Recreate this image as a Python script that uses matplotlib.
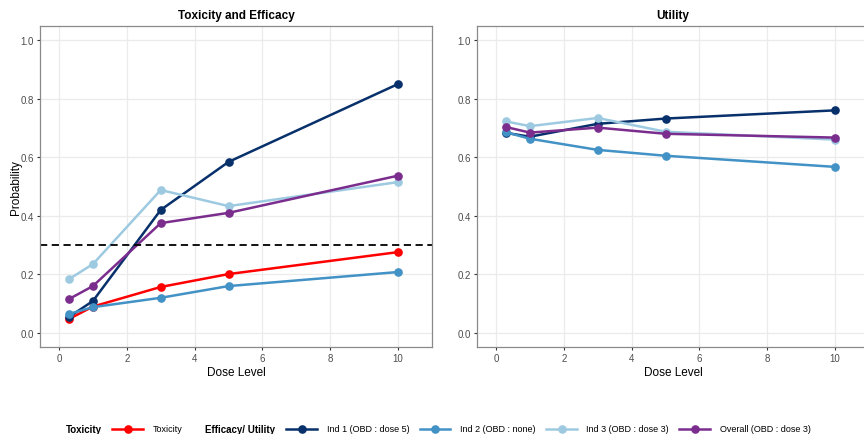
import matplotlib
matplotlib.use("Agg")
import matplotlib.pyplot as plt
from matplotlib.lines import Line2D

plt.rcParams['font.family'] = ['Liberation Sans', 'DejaVu Sans']

doses = [0.3, 1, 3, 5, 10]

tox = [0.048, 0.090, 0.157, 0.201, 0.276]

eff_ind1 = [0.055, 0.109, 0.420, 0.584, 0.850]
eff_ind2 = [0.065, 0.088, 0.120, 0.160, 0.208]
eff_ind3 = [0.184, 0.235, 0.488, 0.433, 0.515]
eff_overall = [0.116, 0.160, 0.375, 0.410, 0.537]

util_ind1 = [0.683, 0.670, 0.714, 0.732, 0.760]
util_ind2 = [0.685, 0.663, 0.625, 0.605, 0.567]
util_ind3 = [0.722, 0.706, 0.734, 0.687, 0.660]
util_overall = [0.703, 0.684, 0.701, 0.680, 0.667]

tox_threshold = 0.3

series_names = ["Ind 1 (OBD : dose 5)", "Ind 2 (OBD : none)",
                "Ind 3 (OBD : dose 3)", "Overall (OBD : dose 3)"]
series_colors = ["#08306B", "#4292C6", "#9ECAE1", "#7B2D8E"]
tox_color = "#FF0000"

W, H = 864, 435
fig = plt.figure(figsize=(W / 100, H / 100), dpi=100)

def px_axes(x0, x1, y0, y1):
    return fig.add_axes([x0 / W, 1 - y1 / H, (x1 - x0) / W, (y1 - y0) / H])

ax1 = px_axes(40, 432, 27, 348)
ax2 = px_axes(477, 869, 27, 348)

lw = 1.8
ms = 5.2

def style(ax, title):
    ax.set_xlim(-0.56, 11.0)
    ax.set_ylim(-0.048, 1.048)
    ax.set_xticks([0, 2, 4, 6, 8, 10])
    ax.set_yticks([0, 0.2, 0.4, 0.6, 0.8, 1.0])
    ax.set_yticklabels(["0.0", "0.2", "0.4", "0.6", "0.8", "1.0"])
    ax.grid(True, color="#EBEBEB", lw=0.9)
    ax.set_axisbelow(True)
    for s in ax.spines.values():
        s.set_color("#8a8a8a")
        s.set_linewidth(0.9)
    ax.tick_params(axis="both", labelsize=7, colors="#333333", length=2.5,
                   width=0.8, labelcolor="#4d4d4d", pad=2)
    ax.set_title(title, fontsize=8.5, fontweight="bold", pad=6)
    ax.set_xlabel("Dose Level", fontsize=8.5, labelpad=2)

style(ax1, "Toxicity and Efficacy")
style(ax2, "Utility")
ax1.set_ylabel("Probability", fontsize=8.5, labelpad=-1)

ax1.plot(doses, tox, color=tox_color, lw=lw, marker="o", ms=ms)
for vals, c in zip([eff_ind1, eff_ind2, eff_ind3, eff_overall], series_colors):
    ax1.plot(doses, vals, color=c, lw=lw, marker="o", ms=ms)
ax1.axhline(tox_threshold, color="black", ls=(0, (4, 2.5)), lw=1.3)

for vals, c in zip([util_ind1, util_ind2, util_ind3, util_overall], series_colors):
    ax2.plot(doses, vals, color=c, lw=lw, marker="o", ms=ms)

# legend (manual layout, ggplot-style horizontal)
ly = 1 - 430 / H

def key(x0, x1, color):
    fig.add_artist(Line2D([x0 / W, x1 / W], [ly, ly], transform=fig.transFigure,
                          color=color, lw=lw))
    fig.add_artist(Line2D([(x0 + x1) / 2 / W], [ly], transform=fig.transFigure,
                          color=color, marker="o", ms=ms, lw=0))

def label(x, text, bold=False):
    fig.text(x / W, ly, text, fontsize=7.0 if bold else 6.5,
             fontweight="bold" if bold else "normal", va="center", ha="left")

label(66, "Toxicity", bold=True)
key(112, 143, tox_color)
label(153, "Toxicity")
label(205, "Efficacy/ Utility", bold=True)
key_pos = [(286, 317, 327), (420, 450, 460), (546, 577, 586), (679, 710, 720)]
for (a, b, t), c, n in zip(key_pos, series_colors, series_names):
    key(a, b, c)
    label(t, n)

fig.savefig("out.png", dpi=100)
